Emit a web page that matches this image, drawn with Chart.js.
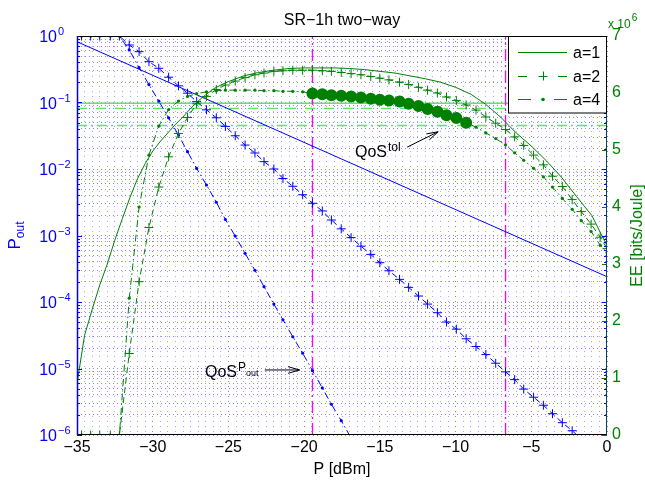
<!DOCTYPE html>
<html>
<head>
<meta charset="utf-8">
<script src="https://cdn.jsdelivr.net/npm/chart.js@4.4.1/dist/chart.umd.min.js"></script>
<style>
html,body{margin:0;padding:0;background:#fff;overflow:hidden}
canvas{display:block}
</style>
</head>
<body>
<canvas id="c" width="645" height="480" style="width:645px;height:480px"></canvas>
<script>
// ---------- texts / ticks ----------
const TITLE = 'SR\u22121h two\u2212way';
const X_LABEL = 'P [dBm]';
const Y_RIGHT_LABEL = 'EE [bits/Joule]';
const LEGEND_LABELS = ['a=1', 'a=2', 'a=4'];
const X_RANGE = [-35, 0];
const LEFT_EXPONENTS = [0, -1, -2, -3, -4, -5, -6];
const RIGHT_TICKS = [0, 1, 2, 3, 4, 5, 6, 7];
const RIGHT_EXP = '6';

// ---------- data ----------
const P_GRID = [-34.7,-34.1,-33.5,-32.8,-32.2,-31.55,-30.9,-30.25,-29.6,-28.95,
  -28.3,-27.7,-27.1,-26.45,-25.8,-25.2,-24.55,-23.9,-23.25,-22.65,
  -22.0,-21.4,-20.75,-20.1,-19.45,-18.8,-18.2,-17.55,-16.9,-16.25,
  -15.6,-15.0,-14.4,-13.7,-13.1,-12.45,-11.85,-11.2,-10.6,-9.95,
  -9.3,-8.65,-8.0,-7.35,-6.7,-6.1,-5.5,-4.85,-4.2,-3.6,
  -2.95,-2.3,-1.7,-1.05,-0.45,0];

const POUT_A1_P = [-35, 0];
const POUT_A1 = [0.82, 2.4e-4];

const POUT_A2 = [1,1,1,1,1,0.733,0.581,0.411,0.327,0.240,
  0.178,0.138,0.103,0.0776,0.0589,0.0437,0.0316,0.0229,0.0174,0.0129,
  0.0100,7.2e-3,5.5e-3,4.1e-3,3.05e-3,2.34e-3,1.71e-3,1.26e-3,9.3e-4,6.9e-4,
  5.2e-4,3.9e-4,2.95e-4,2.19e-4,1.66e-4,1.23e-4,9.3e-5,6.9e-5,5.0e-5,3.9e-5,
  2.8e-5,2.14e-5,1.62e-5,1.20e-5,8.9e-6,6.8e-6,4.9e-6,3.7e-6,2.8e-6,2.09e-6,
  1.53e-6,1.16e-6,8.7e-7,6.6e-7,5.0e-7];

const POUT_A4 = [1,1,1,1,1,0.617,0.334,0.186,0.105,0.0589,
  0.0324,0.0182,0.0102,5.75e-3,3.16e-3,1.74e-3,9.8e-4,5.4e-4,3.0e-4,1.70e-4,
  9.3e-5,5.4e-5,3.0e-5,1.70e-5,9.3e-6,5.1e-6,2.9e-6,1.64e-6,9.0e-7];

const EE_A1_P = [-35,-34.5,-34,-33.5,-33,-32.5,-32,-31.5,-31,-30.5,
  -30,-29.5,-29,-28.5,-28,-27.5,-27,-26.5,-26,-25.5,
  -25,-24,-23,-22,-21,-20,-19,-18,-17,-16,
  -15,-14,-13,-12,-11,-10,-9,-8,-7,-6,
  -5,-4,-3,-2,-1,0];
const EE_A1 = [0.9,1.75,2.2,2.63,3.0,3.42,3.8,4.17,4.5,4.76,
  4.98,5.15,5.30,5.45,5.58,5.73,5.86,5.97,6.07,6.14,
  6.20,6.30,6.36,6.40,6.43,6.44,6.44,6.44,6.43,6.41,
  6.38,6.35,6.30,6.25,6.19,6.10,5.98,5.80,5.57,5.30,
  5.07,4.81,4.52,4.18,3.85,3.32];

const EE_A2 = [0,0,0,0,0,1.43,2.69,3.64,4.35,4.88,
  5.29,5.57,5.81,5.94,6.06,6.14,6.21,6.27,6.32,6.35,
  6.38,6.39,6.40,6.40,6.40,6.39,6.38,6.36,6.34,6.32,
  6.29,6.26,6.23,6.19,6.15,6.10,6.05,6.00,5.93,5.87,
  5.79,5.70,5.58,5.47,5.36,5.23,5.08,4.91,4.74,4.54,
  4.36,4.13,3.92,3.70,3.47,3.27];

const EE_A4 = [0,0,0,0,0,2.40,4.00,4.91,5.42,5.71,
  5.86,5.94,5.99,6.02,6.04,6.05,6.05,6.05,6.05,6.04,
  6.04,6.03,6.03,6.02,5.99,5.98,5.96,5.95,5.94,5.92,
  5.90,5.88,5.87,5.85,5.81,5.77,5.72,5.67,5.61,5.56,
  5.48,5.40,5.30,5.20,5.09,4.95,4.82,4.68,4.53,4.35,
  4.15,3.96,3.76,3.57,3.33,3.20];

const EE_TOL = [5.82, 5.73, 5.43];
const QOS_P = [-19.45, -6.7];

// annotations (data coordinates)
const ANN_TOL = { text: 'QoS', sup: 'tol', at: [-16.64, 4.88], from: [-13.2, 5.05], to: [-11.15, 5.32] };
const ANN_POUT = { text: 'QoS', sup: 'P', supsub: 'out', at: [-26.55, 7.4e-6], from: [-22.6, 9.5e-6], to: [-20.3, 9.5e-6] };

// ---------- styles ----------
const FONT = "'Liberation Sans', Arial, Helvetica, sans-serif";
const GREEN = '#008000', BLUE = '#0000ff', MAGENTA = '#ff00ff', TOL_GREEN = '#62e462';
const DASH = [6, 4], DASHDOT = [7, 3, 1.5, 3];
const TOL_DASH = [[], [10, 9], [10, 4, 2, 4]];
const GRID_BLUE_H = 'rgba(70,70,255,0.65)', GRID_BLUE_V = 'rgba(80,80,255,0.5)', GRID_GRAY = 'rgba(120,120,120,0.85)';

Chart.defaults.font.family = FONT;

function pts(xs, ys) { return ys.map((y, i) => ({ x: xs[i], y: y })); }

const qosIdx = EE_A4.map((v, i) => i).filter(i => P_GRID[i] >= QOS_P[0] - 1e-9 && EE_A4[i] >= EE_TOL[2]);

const base = { tension: 0, clip: 0, borderWidth: 1, pointRadius: 0, pointHoverRadius: 0, fill: false };

const datasets = [
  Object.assign({}, base, { label: 'a=4 QoS', yAxisID: 'yR', data: qosIdx.map(i => ({ x: P_GRID[i], y: EE_A4[i] })),
    borderColor: GREEN, borderWidth: 3, pointRadius: 4.5, pointBackgroundColor: GREEN, pointBorderColor: GREEN }),
  Object.assign({}, base, { label: 'a=1', yAxisID: 'yR', data: pts(EE_A1_P, EE_A1), borderColor: GREEN }),
  Object.assign({}, base, { label: 'a=2', yAxisID: 'yR', data: pts(P_GRID, EE_A2), borderColor: GREEN, borderDash: DASH,
    pointStyle: 'cross', pointRadius: 4.5, pointBorderColor: GREEN, pointBorderWidth: 1 }),
  Object.assign({}, base, { label: 'a=4', yAxisID: 'yR', data: pts(P_GRID, EE_A4), borderColor: GREEN, borderDash: DASHDOT,
    pointStyle: 'circle', pointRadius: 1.6, pointBackgroundColor: GREEN, pointBorderColor: GREEN, pointBorderWidth: 0 }),
  Object.assign({}, base, { label: 'Pout a=1', yAxisID: 'yL', data: pts(POUT_A1_P, POUT_A1), borderColor: BLUE }),
  Object.assign({}, base, { label: 'Pout a=2', yAxisID: 'yL', data: pts(P_GRID, POUT_A2), borderColor: BLUE, borderDash: DASH,
    pointStyle: 'cross', pointRadius: 4.5, pointBorderColor: BLUE, pointBorderWidth: 1 }),
  Object.assign({}, base, { label: 'Pout a=4', yAxisID: 'yL', data: pts(P_GRID, POUT_A4), borderColor: BLUE, borderDash: DASHDOT,
    pointStyle: 'circle', pointRadius: 1.6, pointBackgroundColor: BLUE, pointBorderColor: BLUE, pointBorderWidth: 0 }),
];
QOS_P.forEach(p => datasets.push(Object.assign({}, base, { label: 'qos', yAxisID: 'yL',
  data: [{ x: p, y: 1e-6 }, { x: p, y: 1 }], borderColor: MAGENTA, borderWidth: 1.3, borderDash: [12, 4, 2, 4] })));
EE_TOL.forEach((v, i) => datasets.push(Object.assign({}, base, { label: 'tol', yAxisID: 'yR',
  data: [{ x: X_RANGE[0], y: v }, { x: X_RANGE[1], y: v }], borderColor: TOL_GREEN, borderWidth: 1.3, borderDash: TOL_DASH[i] })));

// grid tick positions
const X_GRID = []; for (let v = X_RANGE[0]; v <= X_RANGE[1] + 1e-9; v += 0.5) X_GRID.push(Math.round(v * 10) / 10);
const LOG_GRID = [];
for (let k = -6; k <= 0; k++) for (let m = 1; m <= 9; m++) { if (k === 0 && m > 1) break; LOG_GRID.push(m * Math.pow(10, k)); }
const isDecade = v => Math.abs(Math.log10(v) - Math.round(Math.log10(v))) < 1e-9;
const fmt = v => (v < 0 ? '\u2212' + (-v) : String(v));

function txt(ctx, s, x, y, size, color, align) {
  ctx.font = size + 'px ' + FONT; ctx.fillStyle = color; ctx.textAlign = align || 'left'; ctx.textBaseline = 'alphabetic';
  ctx.fillText(s, x, y); return ctx.measureText(s).width;
}
function seg(ctx, x1, y1, x2, y2) { ctx.beginPath(); ctx.moveTo(x1, y1); ctx.lineTo(x2, y2); ctx.stroke(); }
function arrow(ctx, x1, y1, x2, y2) {
  seg(ctx, x1, y1, x2, y2);
  const ang = Math.atan2(y2 - y1, x2 - x1), L = 12, w = 0.28;
  ctx.beginPath();
  ctx.moveTo(x2 - L * Math.cos(ang - w), y2 - L * Math.sin(ang - w));
  ctx.lineTo(x2, y2);
  ctx.lineTo(x2 - L * Math.cos(ang + w), y2 - L * Math.sin(ang + w));
  ctx.stroke();
}

const overlay = {
  id: 'overlay',
  afterDraw(chart) {
    const ctx = chart.ctx, a = chart.chartArea, xs = chart.scales.x, yl = chart.scales.yL, yr = chart.scales.yR;
    ctx.save();
    ctx.lineWidth = 1; ctx.setLineDash([]);
    // inward ticks
    ctx.strokeStyle = BLUE;
    LOG_GRID.forEach(v => {
      const y = Math.round(yl.getPixelForValue(v)) + 0.5, len = isDecade(v) ? 5 : 3;
      seg(ctx, a.left, y, a.left + len, y); seg(ctx, a.right - len, y, a.right, y);
    });
    ctx.strokeStyle = GREEN;
    RIGHT_TICKS.forEach(v => { const y = Math.round(yr.getPixelForValue(v)) + 0.5; seg(ctx, a.right - 5, y, a.right, y); });
    // borders
    ctx.strokeStyle = '#000';
    seg(ctx, a.left, a.top + 0.5, a.right, a.top + 0.5);
    seg(ctx, a.left, a.bottom - 0.5, a.right, a.bottom - 0.5);
    ctx.strokeStyle = BLUE; ctx.lineWidth = 1.5;
    seg(ctx, a.left + 0.5, a.top, a.left + 0.5, a.bottom);
    ctx.strokeStyle = '#0b3f6e'; ctx.lineWidth = 1;
    seg(ctx, a.right - 0.5, a.top, a.right - 0.5, a.bottom);

    // left log tick labels
    LEFT_EXPONENTS.forEach(k => {
      const y = yl.getPixelForValue(Math.pow(10, k));
      txt(ctx, '10', 57, y + 6, 16, BLUE, 'right');
      txt(ctx, k === 0 ? '0' : '\u2212' + (-k), 58, y - 1, 11, BLUE, 'left');
    });
    // x10^6
    const w6 = txt(ctx, 'x 10', 608, 28, 12, GREEN, 'left');
    txt(ctx, RIGHT_EXP, 608 + w6 + 1, 21, 10, GREEN, 'left');
    // title, axis titles
    const cx = (a.left + a.right) / 2;
    txt(ctx, TITLE, cx, 25, 16, '#000', 'center');
    txt(ctx, X_LABEL, cx, 474, 16, '#000', 'center');
    // left label P_out rotated
    ctx.save();
    ctx.translate(20, (a.top + a.bottom) / 2);
    ctx.rotate(-Math.PI / 2);
    ctx.font = '17px ' + FONT; const wP = ctx.measureText('P').width;
    ctx.font = '12px ' + FONT; const wO = ctx.measureText('out').width;
    const x0 = -(wP + wO) / 2;
    txt(ctx, 'P', x0, 0, 17, BLUE, 'left');
    txt(ctx, 'out', x0 + wP, 4, 12, BLUE, 'left');
    ctx.restore();
    // right label
    ctx.save();
    ctx.translate(642, (a.top + a.bottom) / 2);
    ctx.rotate(-Math.PI / 2);
    txt(ctx, Y_RIGHT_LABEL, 0, 0, 16, GREEN, 'center');
    ctx.restore();

    // annotations
    ctx.strokeStyle = '#000'; ctx.lineWidth = 1;
    {
      const x = xs.getPixelForValue(ANN_TOL.at[0]), y = yr.getPixelForValue(ANN_TOL.at[1]);
      const w = txt(ctx, ANN_TOL.text, x, y, 16, '#000');
      txt(ctx, ANN_TOL.sup, x + w + 1, y - 6, 12, '#000');
      arrow(ctx, xs.getPixelForValue(ANN_TOL.from[0]), yr.getPixelForValue(ANN_TOL.from[1]),
        xs.getPixelForValue(ANN_TOL.to[0]), yr.getPixelForValue(ANN_TOL.to[1]));
    }
    {
      const x = xs.getPixelForValue(ANN_POUT.at[0]), y = yl.getPixelForValue(ANN_POUT.at[1]);
      const w = txt(ctx, ANN_POUT.text, x, y, 16, '#000');
      const w2 = txt(ctx, ANN_POUT.sup, x + w + 1, y - 6, 12, '#000');
      txt(ctx, ANN_POUT.supsub, x + w + 1 + w2, y - 1, 9, '#000');
      arrow(ctx, xs.getPixelForValue(ANN_POUT.from[0]), yl.getPixelForValue(ANN_POUT.from[1]),
        xs.getPixelForValue(ANN_POUT.to[0]), yl.getPixelForValue(ANN_POUT.to[1]));
    }

    // legend
    const LX = 508.5, LY = 36.5, LW = a.right - 0.5 - LX, LH = 76.5;
    ctx.fillStyle = '#fff'; ctx.fillRect(LX, LY, LW, LH);
    ctx.strokeStyle = '#000'; ctx.lineWidth = 1; ctx.strokeRect(LX, LY, LW, LH);
    const rows = [52, 76, 99], l0 = 518, l1 = 567, lm = 543;
    ctx.strokeStyle = GREEN; ctx.fillStyle = GREEN;
    seg(ctx, l0, rows[0] + 0.5, l1, rows[0] + 0.5);
    seg(ctx, l0, rows[1] + 0.5, l0 + 9, rows[1] + 0.5); seg(ctx, l1 - 9, rows[1] + 0.5, l1, rows[1] + 0.5);
    seg(ctx, lm - 4.5, rows[1] + 0.5, lm + 4.5, rows[1] + 0.5); seg(ctx, lm + 0.5, rows[1] - 4.5, lm + 0.5, rows[1] + 4.5);
    seg(ctx, l0, rows[2] + 0.5, l0 + 13, rows[2] + 0.5); seg(ctx, l1 - 13, rows[2] + 0.5, l1, rows[2] + 0.5);
    ctx.beginPath(); ctx.arc(lm, rows[2] + 0.5, 1.8, 0, Math.PI * 2); ctx.fill();
    LEGEND_LABELS.forEach((s, i) => txt(ctx, s, 573, rows[i] + 6, 16, '#000', 'left'));
    ctx.restore();
  }
};

new Chart(document.getElementById('c'), {
  type: 'line',
  data: { datasets: datasets },
  plugins: [overlay],
  options: {
    responsive: false, animation: false, events: [],
    layout: { padding: { top: 36, left: 0, right: 0, bottom: 0 } },
    plugins: { legend: { display: false }, tooltip: { enabled: false }, title: { display: false } },
    scales: {
      x: {
        type: 'linear', position: 'bottom', min: X_RANGE[0], max: X_RANGE[1],
        afterBuildTicks: s => { s.ticks = X_GRID.map(v => ({ value: v })); },
        afterFit: s => { s.height = 45; },
        ticks: { autoSkip: false, maxRotation: 0, minRotation: 0, padding: 3, color: '#000', font: { size: 16, family: FONT },
          callback: v => (Math.abs(v % 5) < 1e-9 ? fmt(v) : '') },
        grid: { drawTicks: false, lineWidth: 1,
          color: c => (c.tick && Math.abs(c.tick.value % 5) < 1e-9 ? GRID_GRAY : GRID_BLUE_V) },
        border: { display: false, dash: [1, 4] }
      },
      yL: {
        type: 'logarithmic', position: 'left', min: 1e-6, max: 1,
        afterBuildTicks: s => { s.ticks = LOG_GRID.map(v => ({ value: v })); },
        afterFit: s => { s.width = 77; },
        ticks: { display: false },
        grid: { drawTicks: false, lineWidth: 1, color: GRID_BLUE_H },
        border: { display: false, dash: [1, 3] }
      },
      yR: {
        type: 'linear', position: 'right', min: 0, max: 7,
        afterBuildTicks: s => { s.ticks = RIGHT_TICKS.map(v => ({ value: v })); },
        afterFit: s => { s.width = 38; },
        ticks: { color: GREEN, padding: 5, font: { size: 16, family: FONT } },
        grid: { drawOnChartArea: false, drawTicks: false },
        border: { display: false }
      }
    }
  }
});
</script>
</body>
</html>
